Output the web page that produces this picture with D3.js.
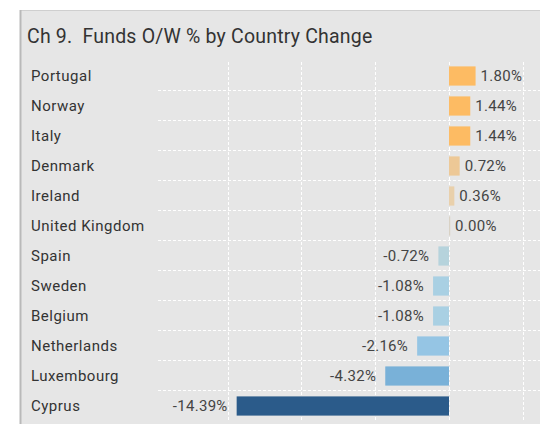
<!DOCTYPE html>
<html><head><meta charset="utf-8">
<script src="https://cdn.jsdelivr.net/npm/d3@7/dist/d3.min.js"></script>
<style>
html,body{margin:0;padding:0;background:#fff;}
svg{display:block;font-family:Roboto,"Noto Sans",sans-serif;}
</style></head>
<body><svg id="c" width="540" height="424"></svg>
<script>
const countries = ["Portugal","Norway","Italy","Denmark","Ireland","United Kingdom","Spain","Sweden","Belgium","Netherlands","Luxembourg","Cyprus"];
const changes = [1.80,1.44,1.44,0.72,0.36,0.00,-0.72,-1.08,-1.08,-2.16,-4.32,-14.39];
const valueLabels = ["1.80%","1.44%","1.44%","0.72%","0.36%","0.00%","-0.72%","-1.08%","-1.08%","-2.16%","-4.32%","-14.39%"];
const xTicks = [-15,-10,-5,0,5];
const title = "Ch 9.  Funds O/W % by Country Change";
const barColors = ["#FDBB63","#FDBB63","#FDBB63","#EDC896","#E9D0AB","#D9D2C4","#B6D3DC","#A9D0E3","#A9D0E3","#95C5E4","#79B1D8","#2B5B8A"];

const svg = d3.select("#c");
// panel
svg.append("rect").attr("x",20).attr("y",10).attr("width",540).attr("height",430)
  .attr("fill","#e6e6e6");
svg.append("line").attr("x1",20).attr("x2",560).attr("y1",10.5).attr("y2",10.5)
  .attr("stroke","#cfcfcf").attr("stroke-width",1);
svg.append("line").attr("x1",20.5).attr("x2",20.5).attr("y1",10).attr("y2",430)
  .attr("stroke","#b9b9b9").attr("stroke-width",2);

svg.append("text").attr("x",27).attr("y",43).attr("fill","#333")
  .attr("font-size",19.5).attr("letter-spacing",0.2).style("white-space","pre").text(title);

const plotTop = 61, bandH = 30;
const y = d3.scaleBand().domain(countries).range([plotTop, plotTop + bandH*countries.length]).paddingInner(0.36).paddingOuter(0.18);
const x = d3.scaleLinear().domain([-19.72, 7.52]).range([158, 560]);

const g = svg.append("g");
// vertical grid
g.selectAll("line.v").data(xTicks).join("line").attr("class","v")
  .attr("x1",d=>Math.round(x(d))+0.5).attr("x2",d=>Math.round(x(d))+0.5)
  .attr("y1",62).attr("y2",421)
  .attr("stroke","#fff").attr("stroke-width",1).attr("stroke-dasharray","3,2");
// horizontal grid between rows
g.selectAll("line.h").data(countries.slice(1)).join("line").attr("class","h")
  .attr("x1",158).attr("x2",540)
  .attr("y1",d=>Math.round(y(d) - y.step()*y.paddingInner()/2)-0.5)
  .attr("y2",d=>Math.round(y(d) - y.step()*y.paddingInner()/2)-0.5)
  .attr("stroke","#fff").attr("stroke-width",1).attr("stroke-dasharray","3,2");

// category labels
g.selectAll("text.cat").data(countries).join("text").attr("class","cat")
  .attr("x",31).attr("y",d=>y(d)+y.bandwidth()/2).attr("dy","0.36em")
  .attr("font-size",15).attr("letter-spacing",0.5).attr("fill","#333").text(d=>d);

// bars
g.selectAll("rect.bar").data(changes).join("rect").attr("class","bar")
  .attr("x",d=>Math.min(x(0),x(d)))
  .attr("y",(d,i)=>y(countries[i]))
  .attr("width",d=>Math.max(1.2,Math.abs(x(d)-x(0))))
  .attr("height",y.bandwidth())
  .attr("fill",(d,i)=>barColors[i]);

// value labels
g.selectAll("text.val").data(changes).join("text").attr("class","val")
  .attr("x",d=> d>=0 ? Math.max(x(d),x(0)+1)+5 : x(d)-9)
  .attr("text-anchor",d=> d>=0 ? "start":"end")
  .attr("y",(d,i)=>y(countries[i])+y.bandwidth()/2).attr("dy","0.36em")
  .attr("font-size",15).attr("letter-spacing",0.3).attr("fill","#444")
  .text((d,i)=>valueLabels[i]);
</script></body></html>
